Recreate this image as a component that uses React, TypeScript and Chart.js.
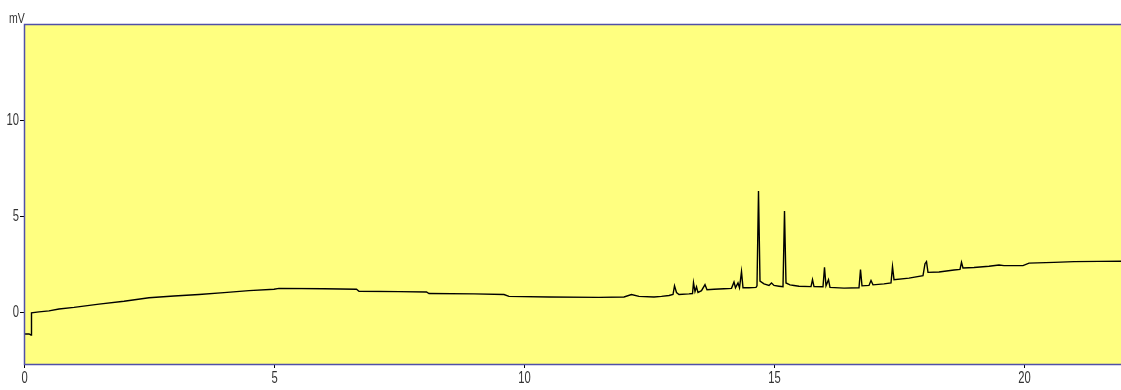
import React, { useEffect, useRef } from "react";
import { Chart, registerables } from "chart.js";

Chart.register(...registerables);

// Retention time (min)
const times: number[] = [
  0, 0.1, 0.14, 0.15, 0.3, 0.5, 0.7, 1.0, 1.5, 2.0, 2.5, 3.0, 3.5, 4.0, 4.5, 5.0, 5.1, 6.0, 6.65, 6.7,
  7.5, 8.05, 8.1, 9.0, 9.6, 9.7, 10.5, 11.5, 12.0, 12.15, 12.3, 12.6, 12.75, 12.9, 12.98, 13.01, 13.05,
  13.1, 13.3, 13.37, 13.39, 13.42, 13.45, 13.48, 13.55, 13.62, 13.66, 13.8, 14.0, 14.15, 14.2, 14.23,
  14.28, 14.31, 14.35, 14.38, 14.5, 14.64, 14.66, 14.69, 14.72, 14.8, 14.9, 14.95, 15.0, 15.1, 15.18,
  15.21, 15.24, 15.32, 15.4, 15.5, 15.74, 15.77, 15.8, 15.98, 16.01, 16.04, 16.09, 16.12, 16.4, 16.7,
  16.73, 16.76, 16.9, 16.94, 16.98, 17.2, 17.34, 17.37, 17.4, 17.7, 17.98, 18.02, 18.05, 18.08, 18.3,
  18.6, 18.72, 18.75, 18.78, 19.0, 19.3, 19.5, 19.6, 19.98, 20.1, 20.6, 21.0, 21.5, 21.94,
];

// Detector signal (mV)
const signal: number[] = [
  -1.1, -1.1, -1.15, 0.0, 0.05, 0.1, 0.2, 0.28, 0.45, 0.6, 0.78, 0.87, 0.95, 1.05, 1.15, 1.22, 1.27, 1.25, 1.22, 1.12,
  1.1, 1.08, 1.0, 0.98, 0.95, 0.85, 0.82, 0.8, 0.82, 0.95, 0.85, 0.82, 0.85, 0.9, 0.95, 1.4, 1.05,
  0.95, 0.98, 1.0, 1.56, 1.1, 1.35, 1.05, 1.15, 1.46, 1.2, 1.22, 1.25, 1.27, 1.6, 1.3,
  1.55, 1.3, 2.14, 1.3, 1.3, 1.32, 1.4, 6.32, 1.65, 1.5, 1.42, 1.55, 1.42, 1.38, 1.35,
  5.28, 1.55, 1.45, 1.42, 1.38, 1.36, 1.72, 1.36, 1.35, 2.36, 1.4, 1.72, 1.32, 1.28, 1.3,
  2.24, 1.4, 1.42, 1.68, 1.45, 1.5, 1.55, 2.4, 1.72, 1.8, 1.93, 2.55, 2.66, 2.1, 2.12,
  2.22, 2.25, 2.62, 2.33, 2.35, 2.42, 2.48, 2.45, 2.45, 2.58, 2.62, 2.66, 2.67, 2.68,
];

const xTicks: number[] = [0, 5, 10, 15, 20];
const yTicks: number[] = [0, 5, 10];
const yUnit = "mV";

const FONT = "'Liberation Sans', Arial, sans-serif";
const SQUEEZE = 0.7;

function narrowText(ctx: CanvasRenderingContext2D, text: string, x: number, y: number, align: "left" | "right" | "center") {
  ctx.save();
  ctx.translate(x, y);
  ctx.scale(SQUEEZE, 1);
  ctx.textAlign = align;
  ctx.fillText(text, 0, 0);
  ctx.restore();
}

export default function App() {
  const ref = useRef<HTMLCanvasElement>(null);

  useEffect(() => {
    document.body.style.margin = "0";
    const canvas = ref.current;
    if (!canvas) return;

    const framePlugin = {
      id: "frame",
      beforeDatasetsDraw(chart: any) {
        const { ctx, chartArea } = chart;
        ctx.save();
        ctx.fillStyle = "#FFFF80";
        ctx.fillRect(chartArea.left, chartArea.top, chartArea.right - chartArea.left, chartArea.bottom - chartArea.top);
        ctx.restore();
      },
      afterDraw(chart: any) {
        const { ctx, chartArea, scales } = chart;
        ctx.save();
        ctx.strokeStyle = "#5050A8";
        ctx.lineWidth = 1.5;
        ctx.beginPath();
        ctx.moveTo(chartArea.right + 2, chartArea.top + 0.5);
        ctx.lineTo(chartArea.left + 0.5, chartArea.top + 0.5);
        ctx.lineTo(chartArea.left + 0.5, chartArea.bottom + 0.5);
        ctx.lineTo(chartArea.right + 2, chartArea.bottom + 0.5);
        ctx.stroke();

        ctx.fillStyle = "#333";
        ctx.font = "16px " + FONT;
        ctx.textBaseline = "middle";
        yTicks.forEach((v) => {
          const py = scales.y.getPixelForValue(v);
          narrowText(ctx, String(v), chartArea.left - 5, py, "right");
        });
        ctx.textBaseline = "top";
        xTicks.forEach((v) => {
          const px = scales.x.getPixelForValue(v);
          narrowText(ctx, String(v), px + 0.5, chartArea.bottom + 7, "center");
        });
        ctx.font = "15px " + FONT;
        ctx.textBaseline = "alphabetic";
        narrowText(ctx, yUnit, 9, 23, "left");
        ctx.restore();
      },
    };

    const chart = new Chart(canvas, {
      type: "line",
      data: {
        datasets: [
          {
            data: times.map((t, i) => ({ x: t, y: signal[i] })),
            borderColor: "#000",
            borderWidth: 1.4,
            pointRadius: 0,
            fill: false,
            tension: 0,
          },
        ],
      },
      options: {
        animation: false,
        responsive: false,
        events: [],
        layout: { padding: { top: 24, left: 0, right: 0, bottom: 0 } },
        plugins: { legend: { display: false }, tooltip: { enabled: false } },
        scales: {
          x: {
            type: "linear",
            min: 0,
            max: 21.94,
            afterFit(scale: any) {
              scale.height = 26;
            },
            afterBuildTicks(scale: any) {
              scale.ticks = xTicks.map((v) => ({ value: v }));
            },
            grid: { drawOnChartArea: false, drawTicks: true, tickLength: 4, tickColor: "#000" },
            border: { display: false },
            ticks: { display: false },
          },
          y: {
            type: "linear",
            min: -2.66,
            max: 15,
            afterFit(scale: any) {
              scale.width = 24;
            },
            afterBuildTicks(scale: any) {
              scale.ticks = yTicks.map((v) => ({ value: v }));
            },
            grid: { drawOnChartArea: false, drawTicks: true, tickLength: 4, tickColor: "#000" },
            border: { display: false },
            ticks: { display: false },
          },
        },
      },
      plugins: [framePlugin],
    } as any);

    return () => chart.destroy();
  }, []);

  return (
    <div style={{ position: "absolute", left: 0, top: 0, width: 1121, height: 390, background: "#fff" }}>
      <canvas ref={ref} width={1121} height={390} style={{ width: 1121, height: 390, display: "block" }} />
    </div>
  );
}
